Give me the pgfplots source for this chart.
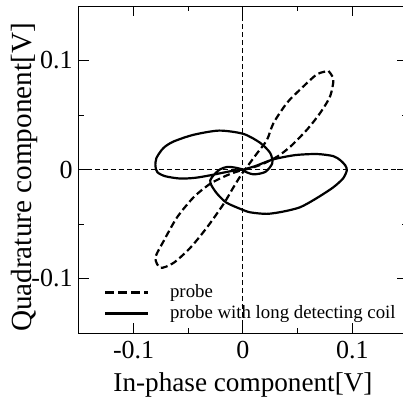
\documentclass[border=0pt]{standalone}
\usepackage{fontspec}
\setmainfont{Liberation Serif}
\usepackage{pgfplots}
\pgfplotsset{compat=1.18}
\usetikzlibrary{calc}
\begin{document}
\begin{tikzpicture}
\begin{axis}[
  scale only axis,
  width=164pt, height=163.5pt,
  xmin=-0.15, xmax=0.15, ymin=-0.15, ymax=0.15,
  axis line style={line width=0.5pt},
  xtick={-0.1,0,0.1}, xticklabels={-0.1,0,0.1},
  ytick={-0.1,0,0.1}, yticklabels={-0.1,0,0.1},
  minor xtick={-0.05,0.05}, minor ytick={-0.05,0.05},
  tick align=inside, major tick length=5pt, minor tick length=2.5pt,
  tick style={line width=0.5pt, black},
  ticklabel style={font=\fontsize{13}{15}\selectfont},
  xticklabel style={anchor=base, yshift=-12.5pt},
  yticklabel style={anchor=east, inner xsep=3pt},
  xlabel={In-phase component[V]},
  ylabel={Quadrature component[V]},
  xlabel style={font=\fontsize{13.6}{16}\selectfont, at={(axis description cs:0.5,-0.1792)}, anchor=base},
  ylabel style={font=\fontsize{14.6}{17}\selectfont, at={(axis description cs:-0.1453,0.4755)}, anchor=base},
  legend style={at={(rel axis cs:0.075,0.028)}, anchor=south west, draw=none, fill=none,
    font=\fontsize{9.4}{11}\selectfont, row sep=0.5pt, inner sep=0pt,
    nodes={inner sep=0.5pt, text height=6.8pt, text depth=2.2pt}},
  legend cell align=left,
  legend image code/.code={\draw[#1] (0pt,0pt) -- (21.5pt,0pt); \path[draw=none] (0pt,0pt) -- (32pt,0pt);},
]
\draw[line width=0.5pt, dash pattern=on 2.5pt off 1.5pt] (axis cs:0,-0.15) -- (axis cs:0,0.15);
\draw[line width=0.5pt, dash pattern=on 2.5pt off 1.5pt] (axis cs:-0.15,0) -- (axis cs:0.15,0);

\addplot[black, line width=1.1pt, dash pattern=on 3.5pt off 1.8pt, smooth, tension=0.45,
  legend image post style={dash pattern=on 4.5pt off 2pt}] coordinates {
(0.0782,0.0904) (0.0827,0.0827) (0.0797,0.0672) (0.0706,0.0519) (0.0584,0.0364)
(0.0432,0.0209) (0.0311,0.0117) (0.0176,0.0049) (0.0067,0.0012) (-0.0043,-0.0016)
(-0.0146,-0.0053) (-0.0299,-0.0130) (-0.0451,-0.0254) (-0.0603,-0.0439) (-0.0725,-0.0655)
(-0.0801,-0.0809) (-0.0755,-0.0902) (-0.0634,-0.0856) (-0.0481,-0.0717) (-0.0329,-0.0531)
(-0.0177,-0.0315) (-0.0086,-0.0161) (-0.0009,-0.0037) (0.0037,0.0024) (0.0128,0.0148)
(0.0219,0.0271) (0.0279,0.0426) (0.0402,0.0611) (0.0523,0.0734) (0.0676,0.0873)
(0.0782,0.0904)
};
\addlegendentry{probe}

\addplot[black, line width=1.1pt, smooth, tension=0.45] coordinates {
(0,0) (-0.0116,-0.0016) (-0.0299,-0.0053) (-0.0436,-0.0076) (-0.0573,-0.0083)
(-0.0710,-0.0062) (-0.0783,-0.0025) (-0.0801,0.0031) (-0.0792,0.0105) (-0.0728,0.0197)
(-0.0637,0.0256) (-0.0454,0.0318) (-0.0219,0.0357) (0.0003,0.0327) (0.0158,0.0244)
(0.0249,0.0151) (0.0268,0.0058) (0.0204,-0.0022) (0.0094,-0.0044) (0.0003,-0.0006)
(0.0112,0.0031) (0.0277,0.0093) (0.0477,0.0132) (0.0676,0.0142) (0.0825,0.0123)
(0.0889,0.0086) (0.0934,0.0040) (0.0950,-0.0006) (0.0916,-0.0081) (0.0825,-0.0164)
(0.0669,-0.0266) (0.0523,-0.0346) (0.0368,-0.0386) (0.0219,-0.0407) (0.0067,-0.0393)
(-0.0025,-0.0361) (-0.0153,-0.0303) (-0.0237,-0.0222) (-0.0289,-0.0145) (-0.0299,-0.0099)
(-0.0262,-0.0044) (-0.0207,0.0003) (-0.0143,0.0024) (-0.0070,0.0017) (0,0)
};
\addlegendentry{probe with long detecting coil}
\end{axis}
\pgfresetboundingbox
\path ($(current axis.south west)+(-39.5pt,-32.5pt)$) rectangle ($(current axis.north east)+(-2pt,3pt)$);
\end{tikzpicture}
\end{document}
